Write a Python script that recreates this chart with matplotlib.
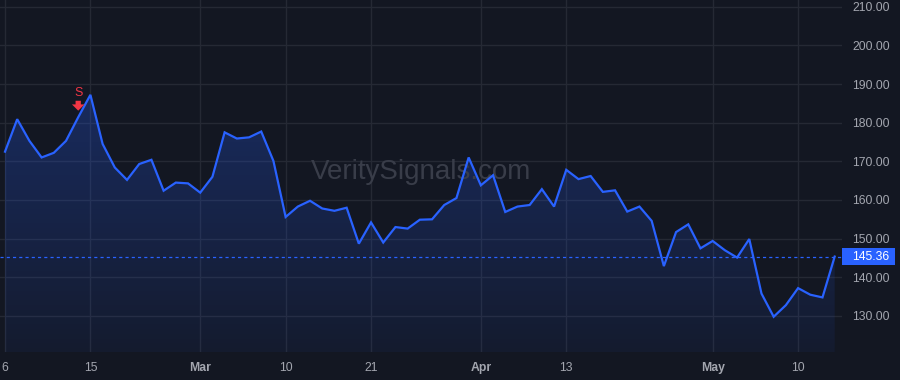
import numpy as np
import pandas as pd
import matplotlib
matplotlib.use("Agg")
import matplotlib.pyplot as plt
from matplotlib.transforms import blended_transform_factory, offset_copy
from matplotlib.patches import Rectangle
from matplotlib.colors import LinearSegmentedColormap

# ---- data -------------------------------------------------------------
holidays = ["2023-02-20", "2023-04-07"]
dates = pd.bdate_range("2023-02-06", "2023-05-15")
dates = dates[~dates.isin(pd.to_datetime(holidays))]

prices = [172.5, 180.9, 175.3, 171.0, 172.2, 175.3, 181.4, 187.2, 174.5, 168.4,
          165.2, 169.3, 170.4, 162.4, 164.5, 164.3, 161.9, 166.0, 177.5, 175.9,
          176.2, 177.7, 170.1, 155.6, 158.3, 159.8, 157.8, 157.2, 158.0, 148.7,
          154.2, 149.0, 153.0, 152.6, 154.9, 155.0, 158.7, 160.5, 171.0, 163.8,
          166.4, 156.9, 158.3, 158.7, 162.8, 158.3, 167.8, 165.4, 166.2, 162.1,
          162.5, 157.0, 158.3, 154.6, 142.9, 151.7, 153.7, 147.5, 149.4, 147.0,
          145.1, 149.9, 135.8, 129.8, 132.8, 137.2, 135.5, 134.8, 145.36]

tick_dates = ["2023-02-06", "2023-02-15", "2023-03-01", "2023-03-10", "2023-03-21",
              "2023-04-03", "2023-04-13", "2023-05-01", "2023-05-10"]
tick_labels = ["6", "15", "Mar", "10", "21", "Apr", "13", "May", "10"]
month_labels = ["Mar", "Apr", "May"]

y_ticks = [130, 140, 150, 160, 170, 180, 190, 200, 210]

signal_date = "2023-02-14"
signal_label = "S"
last_price = prices[-1]
watermark = "VeritySignals.com"

# ---- style ------------------------------------------------------------
BG = "#131722"
GRID = "#252934"
LINE = "#2962ff"
TXT = "#a3a6af"
RED = "#f23645"
plt.rcParams["font.family"] = ["Liberation Sans", "DejaVu Sans"]

fig = plt.figure(figsize=(9, 3.8), dpi=100, facecolor=BG)
ax = fig.add_axes([0, 28 / 380, 842 / 900, 352 / 380], facecolor=BG)

x = np.arange(len(prices))
y = np.array(prices)

ax.set_xlim(-0.41, 68.6)
ax.set_ylim(120.68, 211.73)

# grid
ax.set_yticks(y_ticks)
tick_pos = [dates.get_loc(pd.Timestamp(d)) for d in tick_dates]
ax.set_xticks(tick_pos)
ax.grid(True, color=GRID, linewidth=1)
ax.set_axisbelow(True)
for s in ax.spines.values():
    s.set_visible(False)

# gradient fill under line
ymin, ymax = ax.get_ylim()
cmap = LinearSegmentedColormap.from_list(
    "g", [(0.161, 0.384, 1.0, 0.06), (0.161, 0.384, 1.0, 0.27)])
grad = np.linspace(0, 1, 256).reshape(-1, 1)
top = y.max()
im = ax.imshow(grad, extent=[x[0], x[-1], ymin, top], origin="lower",
               aspect="auto", cmap=cmap, zorder=1)
poly = ax.fill_between(x, y, ymin, color="none", lw=0)
path = poly.get_paths()[0]
im.set_clip_path(path, transform=ax.transData)

ax.plot(x, y, color=LINE, lw=1.6, zorder=3, solid_joinstyle="miter")

# last price dashed line
ax.axhline(last_price, color=LINE, lw=0.9, ls=(0, (2.5, 2.5)), zorder=2)

# tick labels
ax.yaxis.tick_right()
ax.tick_params(axis="y", length=0, pad=7.5, labelsize=8.7, labelcolor=TXT)
ax.set_yticklabels([f"{v:.2f}" for v in y_ticks])
ax.tick_params(axis="x", length=0, pad=7, labelsize=8.8, labelcolor=TXT)
ax.set_xticklabels(tick_labels)
for lab in ax.get_xticklabels():
    if lab.get_text() in month_labels:
        lab.set_fontweight("bold")

# price tag
tr = blended_transform_factory(ax.transAxes, ax.transData)
rect = Rectangle((1.0, last_price - 2.2), 53 / 842, 4.4, transform=tr,
                 facecolor=LINE, edgecolor="none", clip_on=False, zorder=5)
ax.add_patch(rect)
ax.text(1.0 + 10 / 842, last_price, f"{last_price:.2f}", transform=tr,
        ha="left", va="center", color="white", fontsize=8.7, zorder=6,
        clip_on=False)

# watermark
ax.text(0.5, 0.51, watermark, transform=ax.transAxes, ha="center",
        va="center", fontsize=20, color="#393d49", zorder=2)

# sell signal
si = dates.get_loc(pd.Timestamp(signal_date))
sv = prices[si]
tip = offset_copy(ax.transData, fig=fig, y=6.6, units="dots")
tail = offset_copy(ax.transData, fig=fig, y=16.5, units="dots")
ax.annotate("", xy=(si, sv), xycoords=tip, xytext=(si, sv), textcoords=tail,
            arrowprops=dict(arrowstyle="simple,head_length=0.45,head_width=0.9,tail_width=0.38",
                            color=RED, lw=0, mutation_scale=10, shrinkA=0, shrinkB=0),
            zorder=6)
stxt = offset_copy(ax.transData, fig=fig, y=24.5, units="dots")
ax.text(si, sv, signal_label, transform=stxt, ha="center", va="center",
        color=RED, fontsize=9, zorder=6)

fig.savefig("out.png", dpi=100, facecolor=BG)
